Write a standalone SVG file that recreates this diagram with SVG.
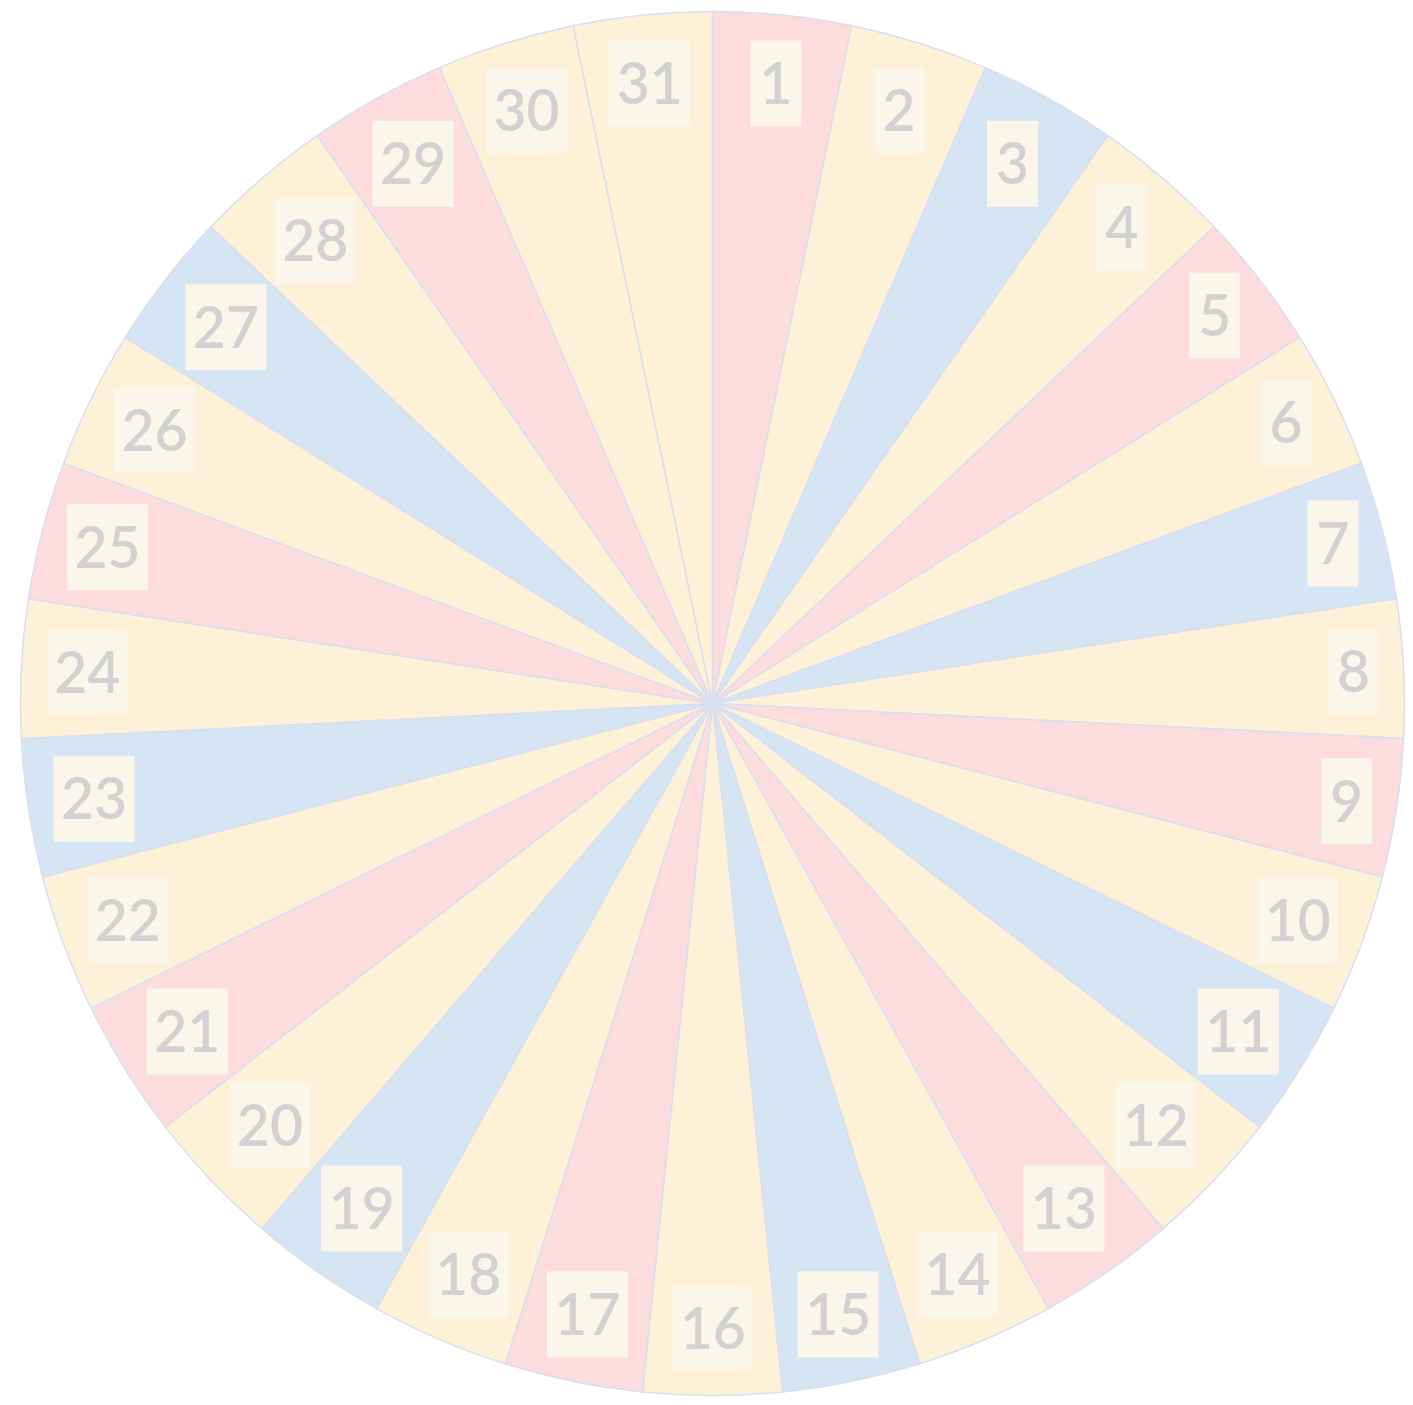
<svg xmlns="http://www.w3.org/2000/svg" xmlns:xlink="http://www.w3.org/1999/xlink" width="1413" height="1405" viewBox="0 0 1413 1405">
<style>
.w{stroke:#dadef0;stroke-width:1.5;stroke-linejoin:round}
.p{fill:#fcdcdc}.y{fill:#fdf2d8}.b{fill:#d5e5f4}
.bx{fill:#faf6ea}
.t{font-family:Lato,"Open Sans","Liberation Sans",sans-serif;font-size:57px;font-weight:600;fill:#d2d2d2;text-anchor:middle}
</style>
<defs>
<path id="wedge" d="M712.5,703.5 L712.5,11.5 A692,692 0 0 1 851.79,25.66 Z"/>
</defs>
<rect width="1413" height="1405" fill="#ffffff"/>
<g id="slices">
<use xlink:href="#wedge" class="w p" transform="rotate(0 712.5 703.5)"/>
<use xlink:href="#wedge" class="w y" transform="rotate(11.6129 712.5 703.5)"/>
<use xlink:href="#wedge" class="w b" transform="rotate(23.2258 712.5 703.5)"/>
<use xlink:href="#wedge" class="w y" transform="rotate(34.8387 712.5 703.5)"/>
<use xlink:href="#wedge" class="w p" transform="rotate(46.4516 712.5 703.5)"/>
<use xlink:href="#wedge" class="w y" transform="rotate(58.0645 712.5 703.5)"/>
<use xlink:href="#wedge" class="w b" transform="rotate(69.6774 712.5 703.5)"/>
<use xlink:href="#wedge" class="w y" transform="rotate(81.2903 712.5 703.5)"/>
<use xlink:href="#wedge" class="w p" transform="rotate(92.9032 712.5 703.5)"/>
<use xlink:href="#wedge" class="w y" transform="rotate(104.5161 712.5 703.5)"/>
<use xlink:href="#wedge" class="w b" transform="rotate(116.1290 712.5 703.5)"/>
<use xlink:href="#wedge" class="w y" transform="rotate(127.7419 712.5 703.5)"/>
<use xlink:href="#wedge" class="w p" transform="rotate(139.3548 712.5 703.5)"/>
<use xlink:href="#wedge" class="w y" transform="rotate(150.9677 712.5 703.5)"/>
<use xlink:href="#wedge" class="w b" transform="rotate(162.5806 712.5 703.5)"/>
<use xlink:href="#wedge" class="w y" transform="rotate(174.1935 712.5 703.5)"/>
<use xlink:href="#wedge" class="w p" transform="rotate(185.8065 712.5 703.5)"/>
<use xlink:href="#wedge" class="w y" transform="rotate(197.4194 712.5 703.5)"/>
<use xlink:href="#wedge" class="w b" transform="rotate(209.0323 712.5 703.5)"/>
<use xlink:href="#wedge" class="w y" transform="rotate(220.6452 712.5 703.5)"/>
<use xlink:href="#wedge" class="w p" transform="rotate(232.2581 712.5 703.5)"/>
<use xlink:href="#wedge" class="w y" transform="rotate(243.8710 712.5 703.5)"/>
<use xlink:href="#wedge" class="w b" transform="rotate(255.4839 712.5 703.5)"/>
<use xlink:href="#wedge" class="w y" transform="rotate(267.0968 712.5 703.5)"/>
<use xlink:href="#wedge" class="w p" transform="rotate(278.7097 712.5 703.5)"/>
<use xlink:href="#wedge" class="w y" transform="rotate(290.3226 712.5 703.5)"/>
<use xlink:href="#wedge" class="w b" transform="rotate(301.9355 712.5 703.5)"/>
<use xlink:href="#wedge" class="w y" transform="rotate(313.5484 712.5 703.5)"/>
<use xlink:href="#wedge" class="w p" transform="rotate(325.1613 712.5 703.5)"/>
<use xlink:href="#wedge" class="w y" transform="rotate(336.7742 712.5 703.5)"/>
<use xlink:href="#wedge" class="w y" transform="rotate(348.3871 712.5 703.5)"/>
</g>
<g id="labels">
<g id="label-1"><rect class="bx" x="750.4" y="40.4" width="51" height="86"/><text class="t" x="775.9" y="103.9">1</text></g>
<g id="label-2"><rect class="bx" x="873.5" y="67.6" width="51" height="86"/><text class="t" x="899.0" y="131.1">2</text></g>
<g id="label-3"><rect class="bx" x="987.1" y="120.8" width="51" height="86"/><text class="t" x="1012.6" y="184.3">3</text></g>
<g id="label-4"><rect class="bx" x="1096.3" y="184.6" width="51" height="86"/><text class="t" x="1121.8" y="248.1">4</text></g>
<g id="label-5"><rect class="bx" x="1189.3" y="272.5" width="51" height="86"/><text class="t" x="1214.8" y="336.0">5</text></g>
<g id="label-6"><rect class="bx" x="1260.6" y="379.8" width="51" height="86"/><text class="t" x="1286.1" y="443.3">6</text></g>
<g id="label-7"><rect class="bx" x="1307.5" y="500.4" width="51" height="86"/><text class="t" x="1333.0" y="563.9">7</text></g>
<g id="label-8"><rect class="bx" x="1328.0" y="628.5" width="51" height="86"/><text class="t" x="1353.5" y="692.0">8</text></g>
<g id="label-9"><rect class="bx" x="1321.1" y="758.1" width="51" height="86"/><text class="t" x="1346.6" y="821.6">9</text></g>
<g id="label-10"><rect class="bx" x="1257.3" y="877.7" width="81" height="86"/><text class="t" x="1297.8" y="941.2">10</text></g>
<g id="label-11"><rect class="bx" x="1197.9" y="988.6" width="81" height="86"/><text class="t" x="1238.4" y="1052.1">11</text></g>
<g id="label-12"><rect class="bx" x="1115.2" y="1082.0" width="81" height="86"/><text class="t" x="1155.7" y="1145.5">12</text></g>
<g id="label-13"><rect class="bx" x="1023.4" y="1165.5" width="81" height="86"/><text class="t" x="1063.9" y="1229.0">13</text></g>
<g id="label-14"><rect class="bx" x="916.9" y="1231.0" width="81" height="86"/><text class="t" x="957.4" y="1294.5">14</text></g>
<g id="label-15"><rect class="bx" x="797.7" y="1271.4" width="81" height="86"/><text class="t" x="838.2" y="1334.9">15</text></g>
<g id="label-16"><rect class="bx" x="672.3" y="1285.0" width="81" height="86"/><text class="t" x="712.8" y="1348.5">16</text></g>
<g id="label-17"><rect class="bx" x="546.9" y="1271.4" width="81" height="86"/><text class="t" x="587.4" y="1334.9">17</text></g>
<g id="label-18"><rect class="bx" x="427.7" y="1231.0" width="81" height="86"/><text class="t" x="468.2" y="1294.5">18</text></g>
<g id="label-19"><rect class="bx" x="321.2" y="1165.5" width="81" height="86"/><text class="t" x="361.7" y="1229.0">19</text></g>
<g id="label-20"><rect class="bx" x="229.4" y="1082.0" width="81" height="86"/><text class="t" x="269.9" y="1145.5">20</text></g>
<g id="label-21"><rect class="bx" x="146.8" y="988.6" width="81" height="86"/><text class="t" x="187.3" y="1052.1">21</text></g>
<g id="label-22"><rect class="bx" x="87.3" y="877.7" width="81" height="86"/><text class="t" x="127.8" y="941.2">22</text></g>
<g id="label-23"><rect class="bx" x="53.5" y="755.8" width="81" height="86"/><text class="t" x="94.0" y="819.3">23</text></g>
<g id="label-24"><rect class="bx" x="46.7" y="629.3" width="81" height="86"/><text class="t" x="87.2" y="692.8">24</text></g>
<g id="label-25"><rect class="bx" x="67.1" y="504.3" width="81" height="86"/><text class="t" x="107.6" y="567.8">25</text></g>
<g id="label-26"><rect class="bx" x="114.0" y="387.1" width="81" height="86"/><text class="t" x="154.5" y="450.6">26</text></g>
<g id="label-27"><rect class="bx" x="185.4" y="284.1" width="81" height="86"/><text class="t" x="225.9" y="347.6">27</text></g>
<g id="label-28"><rect class="bx" x="274.7" y="197.9" width="81" height="86"/><text class="t" x="315.2" y="261.4">28</text></g>
<g id="label-29"><rect class="bx" x="372.5" y="120.8" width="81" height="86"/><text class="t" x="413.0" y="184.3">29</text></g>
<g id="label-30"><rect class="bx" x="486.1" y="67.6" width="81" height="86"/><text class="t" x="526.6" y="131.1">30</text></g>
<g id="label-31"><rect class="bx" x="609.2" y="40.4" width="81" height="86"/><text class="t" x="649.7" y="103.9">31</text></g>
</g>
</svg>
